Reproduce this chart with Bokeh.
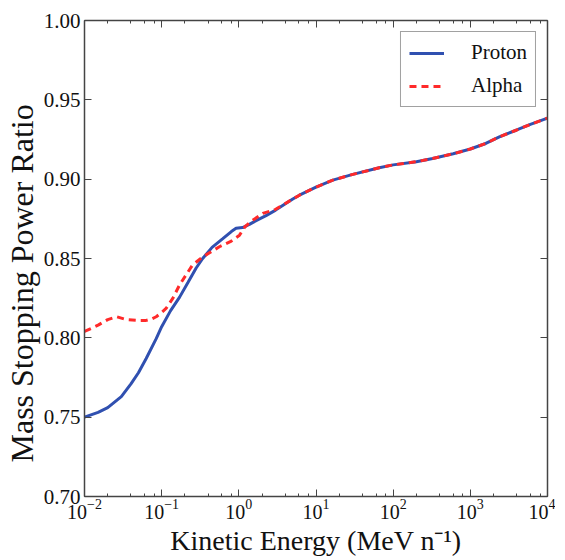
from bokeh.plotting import figure
from bokeh.models import (LogAxis, LinearAxis, FixedTicker, NumeralTickFormatter,
                          Legend, LegendItem, Range1d, LogTicker, Title)
from bokeh.embed import file_html
from bokeh.resources import INLINE

# ---- data ----
energy_proton = [0.01, 0.015, 0.02, 0.03, 0.04, 0.05, 0.063, 0.085, 0.1, 0.13, 0.17,
                 0.22, 0.28, 0.34, 0.45, 0.62, 0.8, 0.92, 1.12, 1.37, 1.7, 2.25, 3, 5,
                 6.1, 10, 16.5, 30, 66, 100, 200, 325, 600, 1000, 1585, 2377, 4000,
                 6000, 10000]
ratio_proton = [0.750, 0.753, 0.756, 0.763, 0.771, 0.778, 0.787, 0.7995, 0.807, 0.817,
                0.8255, 0.835, 0.844, 0.850, 0.857, 0.8625, 0.867, 0.869, 0.8695,
                0.8715, 0.874, 0.877, 0.8805, 0.8875, 0.8899, 0.895, 0.8994, 0.903,
                0.9072, 0.909, 0.911, 0.913, 0.916, 0.919, 0.9225, 0.9267, 0.931,
                0.9345, 0.9385]

energy_alpha = [0.01, 0.015, 0.02, 0.026, 0.035, 0.05, 0.063, 0.075, 0.085, 0.1, 0.114,
                0.14, 0.17, 0.25, 0.34, 0.56, 0.8, 1.02, 1.2, 1.5, 2.04, 3, 5, 6.1, 10,
                16.5, 30, 66, 100, 200, 325, 600, 1000, 1585, 2377, 4000, 6000, 10000]
ratio_alpha = [0.804, 0.808, 0.8115, 0.8133, 0.8115, 0.811, 0.811, 0.812, 0.8133, 0.816,
               0.8185, 0.825, 0.8332, 0.8458, 0.851, 0.8574, 0.861, 0.8647, 0.870,
               0.874, 0.8784, 0.881, 0.8875, 0.8899, 0.895, 0.8994, 0.903, 0.9072,
               0.909, 0.911, 0.913, 0.916, 0.919, 0.9225, 0.9267, 0.931, 0.9345, 0.9385]

series_names = ["Proton", "Alpha"]
y_ticks = [0.70, 0.75, 0.80, 0.85, 0.90, 0.95, 1.00]
x_label = "Kinetic Energy (MeV n\u207b\u00b9)"
y_label = "Mass Stopping Power Ratio"

FONT = "Liberation Serif"
AXIS_COLOR = "#444444"

p = figure(frame_width=463, frame_height=476, x_axis_type="log",
           x_range=Range1d(1e-2, 1e4), y_range=Range1d(0.70, 1.00),
           output_backend="svg", toolbar_location=None,
           min_border_left=77, min_border_right=8, min_border_top=20,
           min_border_bottom=58)
p.grid.visible = False
p.outline_line_color = None
p.background_fill_color = "white"
p.border_fill_color = "white"

l1 = p.line(energy_proton, ratio_proton, line_color="#3050b0", line_width=3)
l2 = p.line(energy_alpha, ratio_alpha, line_color="#ff2a2a", line_width=3,
            line_dash="7 5")

def style_axis(ax):
    ax.axis_line_color = AXIS_COLOR
    ax.axis_line_width = 1.5
    ax.major_tick_line_color = AXIS_COLOR
    ax.minor_tick_line_color = AXIS_COLOR
    ax.major_tick_in = 7
    ax.major_tick_out = 0
    ax.minor_tick_in = 3
    ax.minor_tick_out = 0
    ax.major_label_text_font = FONT
    ax.major_label_text_font_size = "21px"
    ax.major_label_text_color = "#111111"
    ax.axis_label_text_font = FONT
    ax.axis_label_text_font_style = "normal"
    ax.axis_label_text_font_size = "28px"
    ax.axis_label_text_color = "#111111"

xa = p.xaxis[0]
style_axis(xa)
xa.ticker = LogTicker(desired_num_ticks=7)
xa.axis_label = x_label
xa.major_label_text_font_size = "20px"
xa.major_label_standoff = 2
xa.axis_label_standoff = 3

ya = p.yaxis[0]
style_axis(ya)
ya.ticker = FixedTicker(ticks=y_ticks)
ya.formatter = NumeralTickFormatter(format="0.00")
ya.major_label_standoff = 4
ya.minor_tick_in = 0

ytitle = Title(text=y_label, align="left", offset=34, standoff=2,
               text_font=FONT, text_font_size="32px", text_font_style="normal",
               text_color="#111111")
p.add_layout(ytitle, "left")

top = LogAxis(ticker=LogTicker(desired_num_ticks=7))
style_axis(top)
top.major_label_text_font_size = "1px"
top.major_label_text_alpha = 0
top.major_label_standoff = 0
p.add_layout(top, "above")

right = LinearAxis(ticker=FixedTicker(ticks=y_ticks))
style_axis(right)
right.minor_tick_in = 0
right.major_label_text_font_size = "1px"
right.major_label_text_alpha = 0
right.major_label_standoff = 0
p.add_layout(right, "right")

legend = Legend(items=[LegendItem(label=series_names[0], renderers=[l1]),
                       LegendItem(label=series_names[1], renderers=[l2])],
                location="top_right")
legend.margin = 11
legend.padding = 8
legend.spacing = 8
legend.glyph_width = 35
legend.label_standoff = 27
legend.label_text_font = FONT
legend.label_text_font_size = "21px"
legend.label_text_color = "#111111"
legend.border_line_color = AXIS_COLOR
legend.border_line_width = 1.5
legend.background_fill_alpha = 1
p.add_layout(legend, "center")

open("out.html", "w").write(file_html(p, INLINE))
